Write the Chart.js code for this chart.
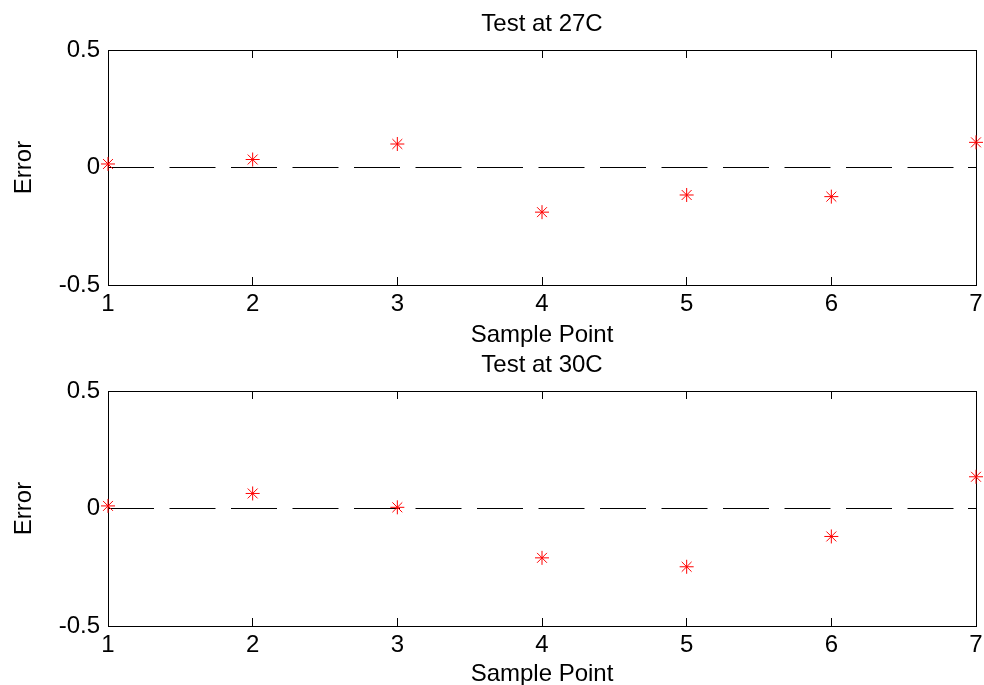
<!DOCTYPE html>
<html>
<head>
<meta charset="utf-8">
<script src="https://cdn.jsdelivr.net/npm/chart.js@4.4.1/dist/chart.umd.min.js"></script>
<style>
body { margin: 0; background: #fff; }
canvas { position: absolute; left: 0; }
</style>
</head>
<body>
<canvas id="top" width="984" height="352" style="top:0px"></canvas>
<canvas id="bottom" width="984" height="343" style="top:342px"></canvas>
<script>
// sample points and errors
var samplePoints = [1, 2, 3, 4, 5, 6, 7]
var error27 = [0.015, 0.034, 0.10, -0.19, -0.117, -0.124, 0.107]
var error30 = [0.011, 0.064, 0.005, -0.21, -0.248, -0.119, 0.135]
var xTicks = [1, 2, 3, 4, 5, 6, 7]
var yTicks = [-0.5, 0, 0.5]
var zeroLine = [0, 0]

var font = { family: '"Liberation Sans", Arial, sans-serif', size: 24, weight: 'normal' }

function setTicks(list) {
  return function (s) { s.ticks = list.map(function (v) { return { value: v } }) }
}

function makeChart(id, title, values, lay) {
  var pts = samplePoints.map(function (x, i) { return { x: x, y: values[i] } })
  var line = [
    { x: samplePoints[0], y: zeroLine[0] },
    { x: samplePoints[samplePoints.length - 1], y: zeroLine[1] }
  ]
  var tickGrid = { drawOnChartArea: false, drawTicks: true, tickLength: -8, color: '#000', lineWidth: 1 }
  var border = { display: true, color: '#000', width: 1 }

  return new Chart(document.getElementById(id), {
    type: 'scatter',
    data: {
      datasets: [
        {
          data: pts,
          pointStyle: 'star',
          pointRadius: 7,
          borderColor: '#ff0000',
          backgroundColor: '#ff0000',
          pointBorderWidth: 1,
          showLine: false,
          clip: false,
          order: 1
        },
        {
          type: 'line',
          data: line,
          borderColor: '#000',
          borderWidth: 1,
          borderDash: [46, 15.5],
          pointRadius: 0,
          fill: false,
          order: 2
        }
      ]
    },
    options: {
      responsive: false,
      animation: false,
      layout: { padding: { left: 0, right: 8, top: 0, bottom: 0 } },
      plugins: {
        legend: { display: false },
        tooltip: { enabled: false }
      },
      scales: {
        x: {
          type: 'linear', position: 'bottom', min: 1, max: 7,
          afterBuildTicks: setTicks(xTicks),
          afterFit: function (s) { s.height = lay.xHeight; s.paddingLeft = 0; s.paddingRight = 0 },
          grid: tickGrid,
          border: border,
          ticks: { color: '#000', font: font, padding: 13, maxRotation: 0, autoSkip: false },
          title: { display: true, text: 'Sample Point', color: '#000', font: font, padding: { top: 0, bottom: lay.xTitleBottom } }
        },
        // top axis carries the plot title so it centres over the axes box
        x2: {
          type: 'linear', axis: 'x', position: 'top', min: 1, max: 7,
          afterBuildTicks: setTicks(xTicks),
          afterFit: function (s) { s.height = lay.topHeight; s.paddingLeft = 0; s.paddingRight = 0 },
          grid: tickGrid,
          border: border,
          ticks: { display: false },
          title: { display: true, text: title, color: '#000', font: font, padding: { top: lay.titleTop, bottom: 0 } }
        },
        y: {
          type: 'linear', position: 'left', min: -0.5, max: 0.5,
          afterBuildTicks: setTicks(yTicks),
          afterFit: function (s) { s.width = 108; s.paddingTop = 0; s.paddingBottom = 0 },
          grid: tickGrid,
          border: border,
          ticks: { color: '#000', font: font, padding: 16 },
          title: { display: true, text: 'Error', color: '#000', font: font, padding: { top: 10, bottom: 0 } }
        },
        y2: {
          type: 'linear', axis: 'y', position: 'right', min: -0.5, max: 0.5,
          afterBuildTicks: setTicks(yTicks),
          afterFit: function (s) { s.width = 0 },
          grid: tickGrid,
          border: border,
          ticks: { display: false }
        }
      }
    }
  })
}

makeChart('top', 'Test at 27C', error27, { topHeight: 50, titleTop: 10, xHeight: 67, xTitleBottom: 2.6 })
makeChart('bottom', 'Test at 30C', error30, { topHeight: 49, titleTop: 8.6, xHeight: 59, xTitleBottom: -3.9 })
</script>
</body>
</html>
